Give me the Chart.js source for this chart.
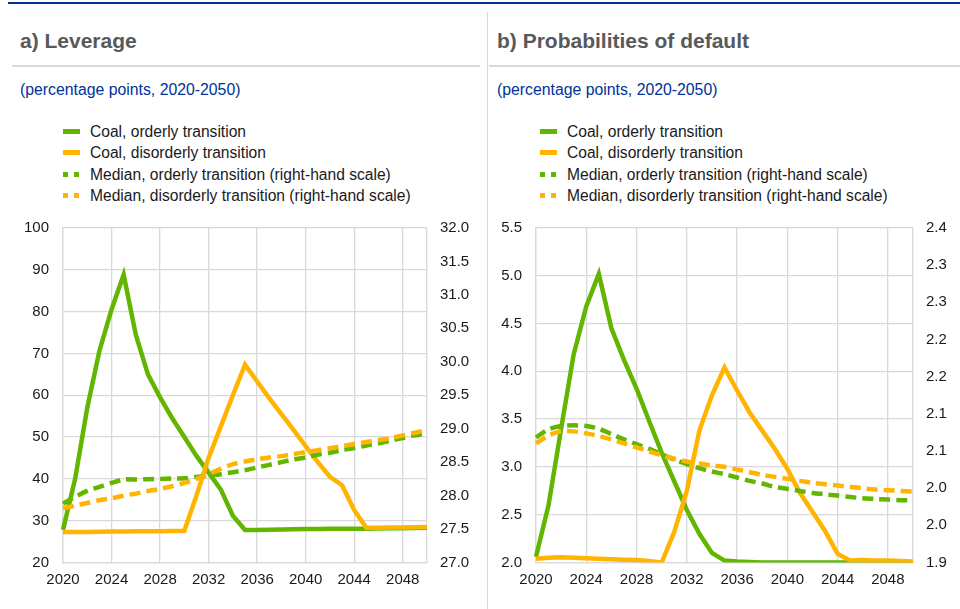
<!DOCTYPE html>
<html>
<head>
<meta charset="utf-8">
<script src="https://cdn.jsdelivr.net/npm/chart.js@4/dist/chart.umd.min.js"></script>
<style>
  html, body { margin: 0; padding: 0; background: #fff; }
  body { width: 960px; height: 609px; position: relative; overflow: hidden; font-family: "Liberation Sans", Arial, sans-serif; }
  .topline { position: absolute; left: 8px; right: 0; top: 2px; height: 2px; background: #003299; }
  .divider { position: absolute; left: 487px; top: 12px; bottom: 0; width: 1px; background: #d9d9d9; }
  .panel { position: absolute; top: 0; height: 609px; }
  .title { position: absolute; top: 29px; font-size: 21px; font-weight: bold; color: #595959; white-space: nowrap; }
  .rule { position: absolute; top: 65px; height: 2px; background: #d9d9d9; }
  .subtitle { position: absolute; top: 81px; font-size: 15.8px; color: #003299; white-space: nowrap; }
  .legend { position: absolute; top: 121px; font-size: 15.6px; color: #1a1a1a; }
  .legend .item { position: relative; height: 21.3px; line-height: 21.3px; padding-left: 27px; white-space: nowrap; }
  .legend .swatch { position: absolute; left: 0; top: 8px; width: 17px; height: 5px; }
  .legend .dash { position: absolute; top: 8px; width: 5px; height: 5px; }
  canvas { position: absolute; top: 205px; }
</style>
</head>
<body>
<div class="topline"></div>
<div class="divider"></div>

<div class="panel" style="left:0;width:487px">
  <div class="title" style="left:20px">a) Leverage</div>
  <div class="rule" style="left:12px;width:468px"></div>
  <div class="subtitle" style="left:20px">(percentage points, 2020-2050)</div>
  <div class="legend" id="legendA" style="left:63px"></div>
  <canvas id="chartA" width="487" height="404" style="left:0"></canvas>
</div>

<div class="panel" style="left:487px;width:473px">
  <div class="title" style="left:10px">b) Probabilities of default</div>
  <div class="rule" style="left:2px;width:471px"></div>
  <div class="subtitle" style="left:10px">(percentage points, 2020-2050)</div>
  <div class="legend" id="legendB" style="left:53px"></div>
  <canvas id="chartB" width="473" height="404" style="left:0"></canvas>
</div>

<script>
const years = [2020, 2021, 2022, 2023, 2024, 2025, 2026, 2027, 2028, 2029,
               2030, 2031, 2032, 2033, 2034, 2035, 2036, 2037, 2038, 2039,
               2040, 2041, 2042, 2043, 2044, 2045, 2046, 2047, 2048, 2049, 2050];

const seriesNames = [
  'Coal, orderly transition',
  'Coal, disorderly transition',
  'Median, orderly transition (right-hand scale)',
  'Median, disorderly transition (right-hand scale)'
];

// a) Leverage
const leverageCoalOrderly = [27.8, 40, 57, 70.6, 80.5, 88.8, 74.5, 65, 59.5, 54.5,
  50, 45.5, 41.5, 37.5, 31.2, 27.8, 27.8, 27.85, 27.9, 27.95,
  28.0, 28.0, 28.05, 28.1, 28.1, 28.1, 28.15, 28.2, 28.2, 28.25, 28.3];
const leverageCoalDisorderly = [27.3, 27.3, 27.3, 27.35, 27.4, 27.4, 27.45, 27.5, 27.5, 27.55,
  27.6, 36, 45, 52.5, 60, 67.3, 63.3, 59.3, 55.5, 51.7,
  47.8, 44, 40.5, 38.5, 32.5, 28.3, 28.3, 28.35, 28.4, 28.45, 28.5];
const leverageMedianOrderly = [27.88, 27.98, 28.07, 28.13, 28.19, 28.24, 28.24, 28.245, 28.25, 28.255,
  28.26, 28.28, 28.30, 28.32, 28.35, 28.38, 28.42, 28.46, 28.50, 28.54,
  28.57, 28.61, 28.64, 28.68, 28.71, 28.75, 28.78, 28.82, 28.86, 28.90, 28.93];
const leverageMedianDisorderly = [27.81, 27.85, 27.89, 27.93, 27.96, 28.00, 28.03, 28.07, 28.10, 28.14,
  28.19, 28.25, 28.32, 28.40, 28.47, 28.51, 28.54, 28.57, 28.59, 28.62,
  28.65, 28.68, 28.71, 28.74, 28.77, 28.80, 28.83, 28.86, 28.90, 28.94, 28.98];
const leverageLeftTicks = ['20', '30', '40', '50', '60', '70', '80', '90', '100'];
const leverageRightTicks = ['27.0', '27.5', '28.0', '28.5', '29.0', '29.5', '30.0', '30.5', '31.0', '31.5', '32.0'];

// b) Probabilities of default
const pdCoalOrderly = [2.06, 2.6, 3.4, 4.18, 4.68, 5.02, 4.45, 4.12, 3.82, 3.48,
  3.15, 2.85, 2.55, 2.3, 2.1, 2.02, 2.01, 2.005, 2.0, 2.0,
  2.0, 2.0, 2.0, 2.0, 2.0, 2.0, 2.0, 2.0, 2.0, 2.0, 2.0];
const pdCoalDisorderly = [2.04, 2.05, 2.055, 2.05, 2.045, 2.04, 2.035, 2.03, 2.025, 2.015,
  2.0, 2.32, 2.75, 3.38, 3.75, 4.04, 3.8, 3.57, 3.38, 3.19,
  2.98, 2.73, 2.53, 2.33, 2.09, 2.02, 2.025, 2.02, 2.02, 2.015, 2.01];
const pdMedianOrderly = [2.087, 2.099, 2.104, 2.105, 2.104, 2.100, 2.092, 2.084, 2.077, 2.070,
  2.062, 2.054, 2.047, 2.041, 2.036, 2.032, 2.027, 2.022, 2.018, 2.013,
  2.010, 2.007, 2.004, 2.002, 2.000, 1.998, 1.996, 1.995, 1.994, 1.993, 1.993];
const pdMedianDisorderly = [2.078, 2.090, 2.096, 2.096, 2.093, 2.089, 2.084, 2.078, 2.072, 2.066,
  2.060, 2.055, 2.051, 2.048, 2.045, 2.043, 2.039, 2.035, 2.031, 2.028,
  2.025, 2.022, 2.019, 2.017, 2.015, 2.013, 2.011, 2.009, 2.008, 2.007, 2.006];
const pdLeftTicks = ['2.0', '2.5', '3.0', '3.5', '4.0', '4.5', '5.0', '5.5'];
const pdRightTicks = ['1.9', '2.0', '2.0', '2.1', '2.1', '2.2', '2.2', '2.3', '2.3', '2.4'];

const GREEN = '#62b600';
const ORANGE = '#ffb400';
const GRID = '#d9d9d9';
const FONT = { family: '"Liberation Sans", Arial, sans-serif', size: 15 };

// evenly spaced ticks, one per label, from the first label to the last
function fixedTicks(labels) {
  return function (scale) {
    const lo = parseFloat(labels[0]);
    const hi = parseFloat(labels[labels.length - 1]);
    scale.ticks = labels.map((_, i) => ({ value: lo + i * (hi - lo) / (labels.length - 1) }));
  };
}

function buildLegend(id, colors, dashed) {
  const box = document.getElementById(id);
  seriesNames.forEach((name, i) => {
    const item = document.createElement('div');
    item.className = 'item';
    if (dashed[i]) {
      item.innerHTML = '<span class="dash" style="left:0;background:' + colors[i] + '"></span>' +
                       '<span class="dash" style="left:11px;background:' + colors[i] + '"></span>';
    } else {
      item.innerHTML = '<span class="swatch" style="background:' + colors[i] + '"></span>';
    }
    item.appendChild(document.createTextNode(name));
    box.appendChild(item);
  });
}

function renderPanel(canvasId, series, leftTicks, rightTicks, leftWidth, rightWidth) {
  const colors = [GREEN, ORANGE, GREEN, ORANGE];
  const dashed = [false, false, true, true];
  const datasets = series.map((values, i) => ({
    label: seriesNames[i],
    data: values,
    borderColor: colors[i],
    backgroundColor: colors[i],
    borderWidth: 4.5,
    borderDash: dashed[i] ? [11, 6] : [],
    pointRadius: 0,
    tension: dashed[i] ? 0.3 : 0,
    order: series.length - i, // later series painted on top
    yAxisID: dashed[i] ? 'y1' : 'y'
  }));

  new Chart(document.getElementById(canvasId), {
    type: 'line',
    data: { labels: years, datasets: datasets },
    options: {
      responsive: false,
      animation: false,
      layout: { padding: { top: 19, left: 0, right: 0, bottom: 0 } },
      plugins: { legend: { display: false }, tooltip: { enabled: false } },
      scales: {
        x: {
          offset: false,
          grid: {
            color: ctx => (ctx.index % 4 === 0 ? GRID : 'rgba(0,0,0,0)'),
            lineWidth: 1.3,
            drawTicks: false
          },
          border: { color: GRID, width: 1.3 },
          ticks: {
            autoSkip: false,
            maxRotation: 0,
            padding: 8,
            color: '#1a1a1a',
            font: FONT,
            callback: (v, i) => (i % 4 === 0 ? String(years[i]) : '')
          },
          afterFit: scale => { scale.height = 46.5; }
        },
        y: {
          position: 'left',
          min: parseFloat(leftTicks[0]),
          max: parseFloat(leftTicks[leftTicks.length - 1]),
          afterBuildTicks: fixedTicks(leftTicks),
          grid: { color: GRID, lineWidth: 1.3, drawTicks: false },
          border: { color: GRID, width: 1.3 },
          ticks: {
            padding: 14,
            color: '#1a1a1a',
            font: FONT,
            callback: (v, i) => leftTicks[i]
          },
          afterFit: scale => { scale.width = leftWidth; }
        },
        y1: {
          position: 'right',
          min: parseFloat(rightTicks[0]),
          max: parseFloat(rightTicks[rightTicks.length - 1]),
          afterBuildTicks: fixedTicks(rightTicks),
          grid: { drawOnChartArea: false, drawTicks: false },
          border: { color: GRID, width: 1.3 },
          ticks: {
            padding: 13,
            color: '#1a1a1a',
            font: FONT,
            callback: (v, i) => rightTicks[i]
          },
          afterFit: scale => { scale.width = rightWidth; }
        }
      }
    }
  });

  return { colors, dashed };
}

const styleA = renderPanel('chartA',
  [leverageCoalOrderly, leverageCoalDisorderly, leverageMedianOrderly, leverageMedianDisorderly],
  leverageLeftTicks, leverageRightTicks, 63, 60);
buildLegend('legendA', styleA.colors, styleA.dashed);

const styleB = renderPanel('chartB',
  [pdCoalOrderly, pdCoalDisorderly, pdMedianOrderly, pdMedianDisorderly],
  pdLeftTicks, pdRightTicks, 49, 47);
buildLegend('legendB', styleB.colors, styleB.dashed);
</script>
</body>
</html>
